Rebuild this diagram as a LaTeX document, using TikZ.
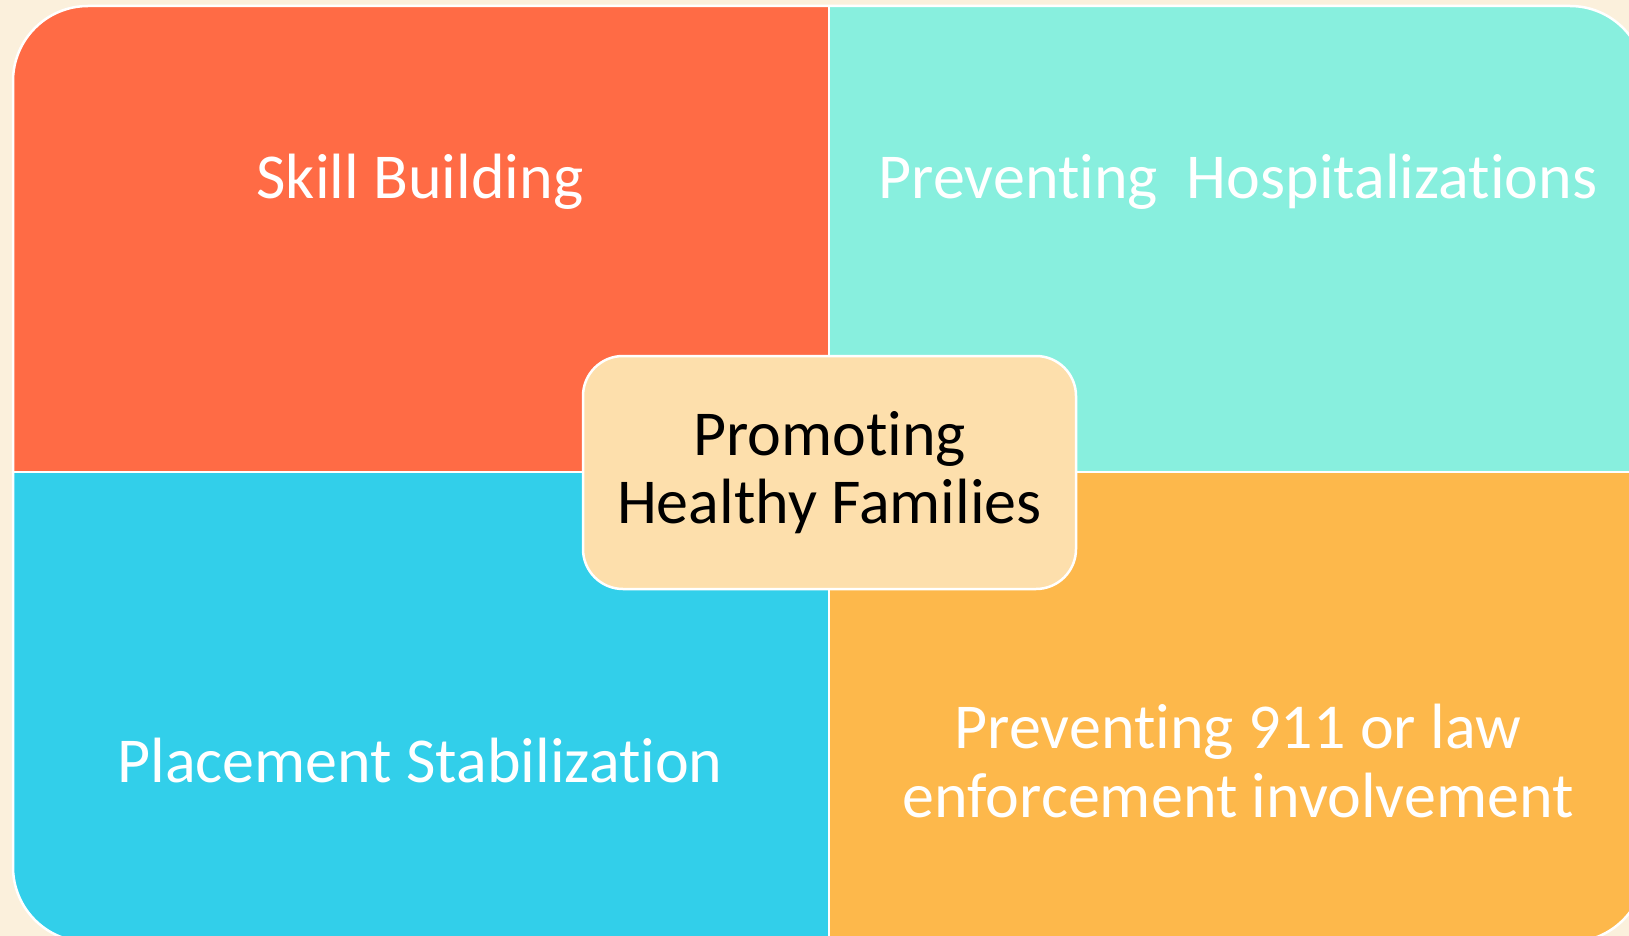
\documentclass[tikz,border=0pt]{standalone}
\usepackage{fontspec}
\setmainfont{Carlito}[Ligatures=NoCommon]

\definecolor{paper}{HTML}{FBF0DC}
\definecolor{skillred}{HTML}{FF6B45}
\definecolor{hospteal}{HTML}{88EFDE}
\definecolor{placecyan}{HTML}{32CFEA}
\definecolor{lawamber}{HTML}{FDB84B}
\definecolor{hubtan}{HTML}{FDDFAC}

\begin{document}
\begin{tikzpicture}[x=1pt,y=-1pt]
    % Node styles
    \tikzstyle{quadtext} = [text=white, font=\fontsize{64}{69}\selectfont, align=center, anchor=base, inner sep=0pt]
    \tikzstyle{hub} = [draw=white, line width=2.5pt, fill=hubtan, rounded corners=40pt, minimum width=493pt, minimum height=233pt, font=\fontsize{64}{68}\selectfont, align=center]

    % Background
    \useasboundingbox (0,0) rectangle (1629,936);
    \fill[paper] (0,0) rectangle (1629,936);

    % Quadrants
    \begin{scope}
        \clip[rounded corners=75pt] (13,6) rectangle (1645,942);
        \fill[skillred] (13,6) rectangle (829,472);
        \fill[hospteal] (829,6) rectangle (1645,472);
        \fill[placecyan] (13,472) rectangle (829,942);
        \fill[lawamber] (829,472) rectangle (1645,942);
        \draw[white, line width=2pt] (829,6) -- (829,942);
        \draw[white, line width=2pt] (13,472) -- (1645,472);
    \end{scope}
    \draw[white, line width=2.5pt, rounded corners=75pt] (13,6) rectangle (1645,942);

    % Nodes
    \node (skill) at (420,198) [quadtext] {Skill Building};
    \node (hosp) at (1238,199) [quadtext] {Preventing\ \ Hospitalizations};
    \node (place) at (420,782) [quadtext] {Placement Stabilization};
    \node (law) at (1238,817) [quadtext] {Preventing 911 or law\\enforcement involvement};
    \node (hub) at (829.5,472.5) [hub] {Promoting\\Healthy Families};

\end{tikzpicture}
\end{document}
